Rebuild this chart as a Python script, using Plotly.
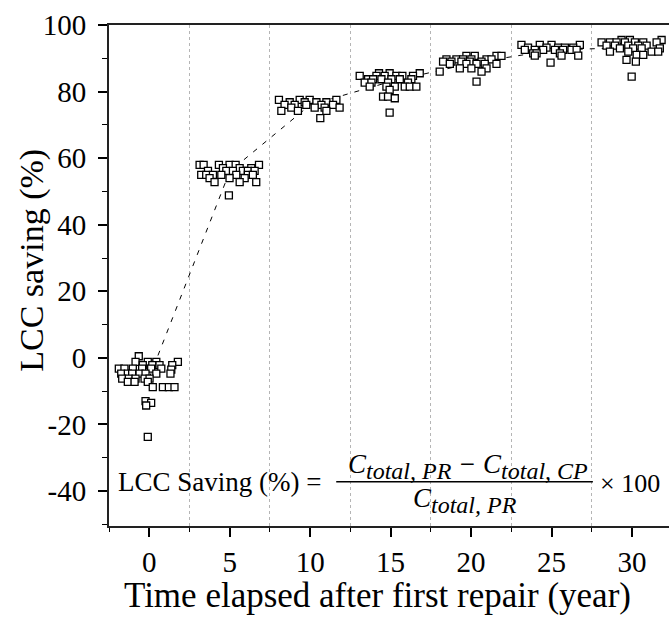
import plotly.graph_objects as go

# ---- data ----
t0 = [-0.65, -0.85, -0.09, 0.44, 1.78, -0.40, 0.19, 0.64, 1.43, -1.89, -1.54, -1.02, -0.44, 0.12, 0.75, 1.37,
      -1.74, -1.33, -1.06, -0.60, -0.23, 0.44, 1.32, -1.68, -1.27, -0.85, -0.29, 0.02, -1.33, -0.91, -0.09,
      0.22, 0.85, 1.22, 1.57, -0.23, 0.12, -0.19, -0.09]
v0 = [0.5, -1.2, -1.2, -1.2, -1.2, -2.2, -2.2, -2.2, -2.2, -3.2, -3.2, -3.2, -3.2, -3.2, -3.2, -3.5,
      -4.7, -4.7, -4.7, -4.7, -4.7, -4.7, -4.7, -6.2, -6.2, -6.2, -6.2, -6.2, -7.2, -7.2, -7.2,
      -8.8, -8.8, -8.8, -8.8, -13.0, -13.5, -14.3, -23.7]

t5 = [3.13, 3.38, 4.33, 4.99, 5.37, 6.82, 4.58, 5.62, 6.34, 3.65, 4.79, 5.20, 5.82, 6.13, 6.55,
      3.23, 3.54, 3.96, 4.48, 5.41, 6.13, 6.44, 3.75, 4.99, 5.93, 4.06, 5.62, 6.65, 4.95]
v5 = [58.0, 58.0, 58.0, 58.0, 58.0, 58.0, 57.0, 57.0, 57.0, 56.2, 56.2, 56.2, 56.2, 56.2, 56.2,
      55.0, 55.0, 55.0, 55.0, 55.0, 55.0, 55.0, 54.0, 54.0, 54.0, 52.8, 52.8, 52.8, 48.8]

t10 = [8.06, 9.35, 9.97, 11.63, 8.73, 9.66, 10.39, 11.01, 8.41, 9.04, 9.76, 10.70, 11.42,
       8.83, 10.28, 10.90, 11.83, 8.21, 9.24, 11.01, 10.63]
v10 = [77.5, 77.5, 77.5, 77.5, 76.8, 76.8, 76.8, 76.8, 76.0, 76.0, 76.0, 76.0, 76.0,
       75.2, 75.2, 75.2, 75.2, 74.2, 74.2, 74.2, 72.0]

t15 = [14.28, 14.94, 16.81, 13.08, 14.12, 14.63, 15.36, 15.73, 16.39, 13.60, 13.91, 14.43, 15.05, 15.57, 16.29,
       13.39, 13.81, 14.84, 16.08, 13.70, 14.74, 15.26, 15.88, 16.19, 16.60, 14.94, 14.53, 14.84, 15.26, 14.94]
v15 = [85.5, 85.5, 85.5, 84.7, 84.7, 84.7, 84.7, 84.7, 84.7, 83.7, 83.7, 83.7, 83.7, 83.7, 83.7,
       82.7, 82.7, 82.7, 82.7, 81.5, 81.5, 81.5, 81.5, 81.5, 81.5, 80.5, 78.5, 78.5, 78.0, 73.7]

t20 = [19.71, 20.23, 21.58, 21.89, 18.47, 19.09, 19.50, 20.02, 20.96, 21.27, 18.26, 18.78, 19.40, 19.92, 20.65,
       18.68, 19.71, 20.34, 20.85, 21.58, 19.30, 20.02, 20.96, 18.05, 20.65, 20.34]
v20 = [90.7, 90.7, 90.7, 90.7, 89.7, 89.7, 89.7, 89.7, 89.7, 89.7, 89.0, 89.0, 89.0, 89.0, 89.0,
       88.3, 88.3, 88.3, 88.3, 88.3, 87.0, 87.0, 87.0, 86.0, 86.0, 83.0]

t25 = [23.13, 24.27, 25.00, 26.76, 23.54, 24.69, 25.41, 25.83, 26.35, 23.34, 23.96, 24.48, 25.21, 25.72, 26.24,
       26.56, 23.86, 24.07, 25.52, 23.96, 25.62, 26.66, 24.94]
v25 = [94.0, 94.0, 94.0, 94.0, 93.2, 93.2, 93.2, 93.2, 93.2, 92.5, 92.5, 92.5, 92.5, 92.5, 92.5,
       92.5, 91.5, 91.5, 91.5, 90.8, 90.8, 90.8, 88.7]

t30 = [29.35, 29.87, 31.84, 28.11, 28.63, 29.04, 29.56, 30.18, 30.70, 31.53, 28.42, 28.94, 29.77, 30.39, 30.91,
       29.25, 30.07, 30.60, 31.73, 28.63, 29.77, 31.22, 31.63, 30.29, 30.70, 29.66, 30.24, 29.98]
v30 = [95.5, 95.5, 95.5, 94.8, 94.8, 94.8, 94.8, 94.8, 94.8, 94.8, 93.8, 93.8, 93.8, 93.8, 93.8,
       93.0, 93.0, 93.0, 93.0, 92.0, 92.0, 92.0, 92.0, 91.0, 91.0, 89.5, 89.0, 84.5]

trend_years = [0, 5, 10, 15, 20, 25, 30]
trend_means = [-6.0, 56.0, 76.0, 83.0, 88.5, 92.4, 93.3]

ytick_vals = [-40, -20, 0, 20, 40, 60, 80, 100]
ytick_text = ["-40", "-20", "0", "20", "40", "60", "80", "100"]
yminor_vals = [-50, -30, -10, 10, 30, 50, 70, 90]
xtick_vals = [0, 5, 10, 15, 20, 25, 30]
xtick_text = ["0", "5", "10", "15", "20", "25", "30"]
xminor_vals = [-2.5, 2.5, 7.5, 12.5, 17.5, 22.5, 27.5, 32.5]

x_title = "Time elapsed after first repair (year)"
y_title = "LCC saving (%)"

SERIF = "Liberation Serif, Times New Roman, serif"

fig = go.Figure()

fig.add_trace(go.Scatter(
    x=trend_years, y=trend_means, mode="lines",
    line=dict(color="black", width=1, dash="5px,7px"),
    showlegend=False, hoverinfo="skip"))

all_t = t0 + t5 + t10 + t15 + t20 + t25 + t30
all_v = v0 + v5 + v10 + v15 + v20 + v25 + v30
fig.add_trace(go.Scatter(
    x=all_t, y=all_v, mode="markers",
    marker=dict(symbol="square", size=7, color="white",
                line=dict(color="black", width=1.3)),
    showlegend=False))

sub_style = "font-size:24px"
numer = ("<i>C<sub><span style='%s'>total, PR</span></sub> \u2212 "
         "C<sub><span style='%s'>total, CP</span></sub></i>") % (sub_style, sub_style)
denom = "<i>C<sub><span style='%s'>total, PR</span></sub></i>" % sub_style

ann_font = dict(family=SERIF, size=27, color="black")
fig.add_annotation(x=-2.09, y=-37.4, xref="x", yref="y", text="LCC Saving (%) =",
                   showarrow=False, xanchor="left", yanchor="middle", font=ann_font)
fig.add_annotation(x=19.8, y=-32.6, xref="x", yref="y", text=numer,
                   showarrow=False, xanchor="center", yanchor="middle", font=ann_font)
fig.add_annotation(x=19.6, y=-42.9, xref="x", yref="y", text=denom,
                   showarrow=False, xanchor="center", yanchor="middle", font=ann_font)
fig.add_annotation(x=29.9, y=-37.6, xref="x", yref="y", text="\u00d7 100",
                   showarrow=False, xanchor="center", yanchor="middle",
                   font=dict(family=SERIF, size=26, color="black"))
fig.add_shape(type="line", xref="x", yref="y", x0=11.62, x1=27.57, y0=-37.2, y1=-37.2,
              line=dict(color="black", width=1.5))

# axis titles as annotations for exact placement
fig.add_annotation(x=0.48, y=-0.139, xref="paper", yref="paper", text=x_title,
                   showarrow=False, xanchor="center", yanchor="middle",
                   font=dict(family=SERIF, size=35, color="black"))
fig.add_annotation(x=-0.137, y=0.53, xref="paper", yref="paper", text=y_title,
                   showarrow=False, xanchor="center", yanchor="middle", textangle=-90,
                   font=dict(family=SERIF, size=34, color="black"))

fig.update_layout(
    width=669, height=617,
    margin=dict(l=109, r=0, t=25, b=91),
    paper_bgcolor="white", plot_bgcolor="white",
    font=dict(family=SERIF, size=29, color="black"),
    xaxis=dict(
        range=[-2.5, 32.3], tickmode="array", tickvals=xtick_vals, ticktext=xtick_text,
        ticks="outside", ticklen=9, tickwidth=1.5, tickcolor="black",
        showline=True, linecolor="#222", linewidth=2, mirror=True,
        showgrid=False, zeroline=False,
        tickfont=dict(family=SERIF, size=29, color="black"),
        minor=dict(tickmode="array", tickvals=xminor_vals, ticks="outside", ticklen=4,
                   tickwidth=1.2, tickcolor="black",
                   showgrid=True, gridcolor="#b5b5b5", gridwidth=1, griddash="dot"),
    ),
    yaxis=dict(
        range=[-50.5, 100], tickmode="array", tickvals=ytick_vals, ticktext=ytick_text,
        ticks="outside", ticklen=9, tickwidth=1.5, tickcolor="black",
        showline=True, linecolor="#222", linewidth=2, mirror=False,
        showgrid=False, zeroline=False, ticklabelstandoff=6,
        tickfont=dict(family=SERIF, size=29, color="black"),
        minor=dict(tickmode="array", tickvals=yminor_vals, ticks="outside", ticklen=5,
                   tickwidth=1.2, tickcolor="black", showgrid=False),
    ),
)

fig.write_html("out.html", config={"displayModeBar": False},
               post_script="document.body.style.margin='0px';document.body.style.padding='0px';"
                           "document.body.style.overflow='hidden';")
